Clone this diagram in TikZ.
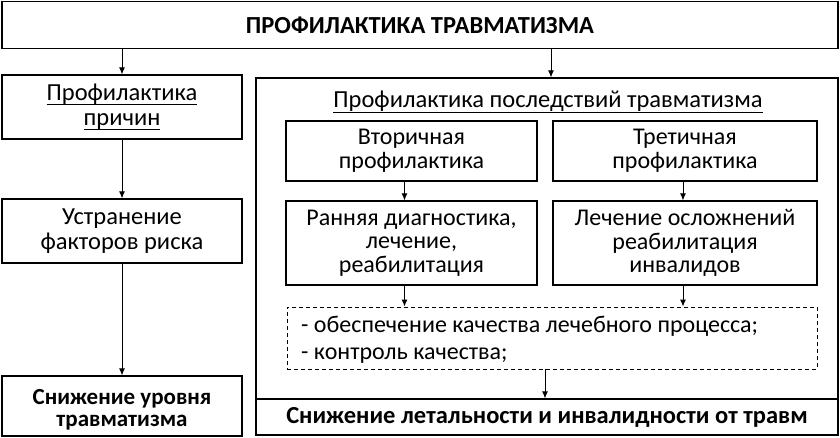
\documentclass[tikz,border=0pt]{standalone}
\usepackage{fontspec}
\setmainfont{Carlito}
\usetikzlibrary{arrows.meta}
\newcommand\myul[1]{\underline{\raisebox{0pt}[\height][3pt]{#1}}}
\begin{document}
\begin{tikzpicture}[x=1pt,y=-1pt,
  box/.style={draw,line width=1.1pt,inner sep=0pt,align=center,font=\fontsize{24.5}{25}\selectfont},
  inbox/.style={box,font=\fontsize{24}{23.5}\selectfont},
  txt/.style={inner sep=0pt,align=center},
  arr/.style={line width=1pt,-{Latex[length=7pt,width=6pt]}}]
\useasboundingbox (0,0) rectangle (840,438);
\node[box,minimum width=836pt,minimum height=47pt,font=\fontsize{24.5}{25}\bfseries] (top) at (420,25) {ПРОФИЛАКТИКА ТРАВМАТИЗМА};
\node[box,minimum width=240pt,minimum height=64pt] (l1) at (122,107) {\myul{Профилактика}\\\myul{причин}};
\node[box,minimum width=240pt,minimum height=64pt] (l2) at (122,231) {Устранение\\факторов риска};
\node[box,minimum width=240pt,minimum height=60pt] (l3) at (122,406) {};
\node[txt,font=\fontsize{23}{22.5}\bfseries] (l3t) at ([yshift=-4pt]l3.center) {Снижение уровня\\травматизма};
\node[box,minimum width=582pt,minimum height=321pt] (big) at (547,238.5) {};
\node[box,minimum width=582pt,minimum height=36pt,font=\fontsize{24.5}{25}\bfseries] (bot) at (547,417) {Снижение летальности и инвалидности от травм};
\node[txt,font=\fontsize{24.5}{25}\selectfont] (head) at (548,102) {\myul{Профилактика последствий травматизма}};
\node[inbox,minimum width=251pt,minimum height=60pt] (sec) at (411.5,151) {Вторичная\\профилактика};
\node[inbox,minimum width=264pt,minimum height=60pt] (ter) at (685,151) {Третичная\\профилактика};
\node[inbox,minimum width=251pt,minimum height=84pt] (early) at (411.5,243) {Ранняя диагностика,\\лечение,\\реабилитация};
\node[inbox,minimum width=264pt,minimum height=84pt] (late) at (685,243) {Лечение осложнений\\реабилитация\\инвалидов};
\node[box,dashed,dash pattern=on 4pt off 3pt,line width=0.9pt,minimum width=530pt,minimum height=62pt] (dash) at (552,338) {};
\node[font=\fontsize{24}{27}\selectfont,inner sep=0pt,align=left,anchor=west] (dtext) at (301,340) {- обеспечение качества лечебного процесса;\\- контроль качества;};
\draw[arr] (l1.north |- top.south) -- (l1.north);
\draw[arr] ([xshift=4pt]big.north |- top.south) -- ([xshift=4pt]big.north);
\draw[arr] (l1.south) -- (l2.north);
\draw[arr] (l2.south) -- (l3.north);
\draw[arr] ([xshift=-7pt]sec.south) -- ([xshift=-7pt]early.north);
\draw[arr] ([xshift=-2pt]ter.south) -- ([xshift=-2pt]late.north);
\draw[arr] ([xshift=-7pt]early.south) -- ([xshift=-7pt]early.south |- dash.north);
\draw[arr] ([xshift=-2pt]late.south) -- ([xshift=-2pt]late.south |- dash.north);
\draw[arr] ([xshift=-7pt]dash.south) -- ([xshift=-7pt]dash.south |- bot.north);
\end{tikzpicture}
\end{document}
